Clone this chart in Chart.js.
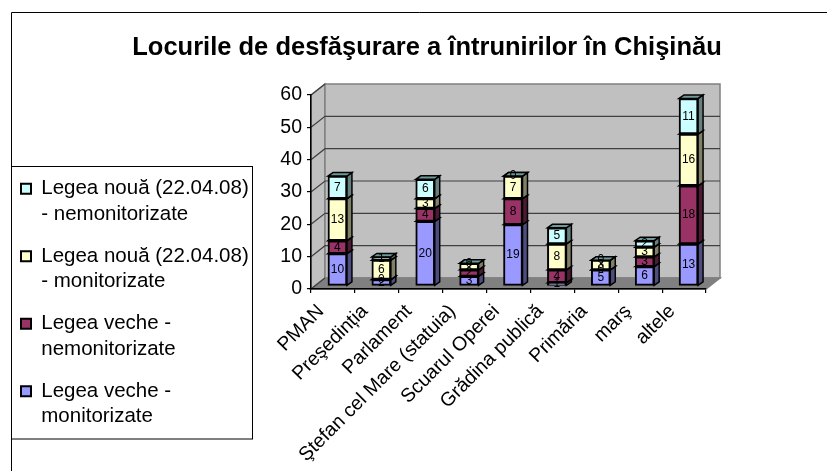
<!DOCTYPE html>
<html>
<head>
<meta charset="utf-8">
<script src="https://cdn.jsdelivr.net/npm/chart.js@4"></script>
<style>
    html, body { margin: 0; padding: 0; background: #fff; overflow: hidden; }
    canvas { display: block; }
</style>
</head>
<body>
<canvas id="myChart" width="827" height="471"></canvas>
<script>
const chartTitle = 'Locurile de desfăşurare a întrunirilor în Chişinău';
const categories = ['PMAN', 'Preşedinția', 'Parlament', 'Ştefan cel Mare (statuia)', 'Scuarul Operei', 'Grădina publică', 'Primăria', 'marş', 'altele'];
const legeaVecheMon = [10, 2, 20, 3, 19, 1, 5, 6, 13];
const legeaVecheNemon = [4, 0, 4, 2, 8, 4, 0, 3, 18];
const legeaNouaMon = [13, 6, 3, 2, 7, 8, 3, 3, 16];
const legeaNouaNemon = [7, 1, 6, 0, 0, 5, 0, 2, 11];
const yTicks = [0, 10, 20, 30, 40, 50, 60];

// wall depth and bar depth of the fake 3d look
const wallDx = 14, wallDy = -11;
const barShiftX = 4.5, barShiftY = -3;
const barDx = 5, barDy = -3.5;

function series(label, data, front, side, top) {
    return {
        label: label,
        data: data,
        backgroundColor: front,
        sideColor: side,
        topColor: top,
        borderColor: '#000',
        borderWidth: 2,
        borderSkipped: false,
        barThickness: 19,
        clip: false,
    };
}

function face(ctx, pts, fill) {
    ctx.beginPath();
    ctx.moveTo(pts[0][0], pts[0][1]);
    pts.slice(1).forEach(p => ctx.lineTo(p[0], p[1]));
    ctx.closePath();
    ctx.fillStyle = fill;
    ctx.fill();
    ctx.stroke();
}

const fake3d = {
    id: 'fake3d',
    afterLayout(chart) {
        // legend and title do not sit where the layout puts them
        const lg = chart.legend;
        lg.left = 4.5; lg.right = lg.left + lg.width;
        lg.top = 162; lg.bottom = lg.top + lg.height;
        chart.titleBlock.left += 74;
        chart.titleBlock.right += 74;
    },
    beforeDraw(chart) {
        const { ctx, chartArea: a, scales: { y } } = chart;
        ctx.save();
        // outer frame, open on the right and at the bottom
        ctx.strokeStyle = '#000';
        ctx.lineWidth = 1;
        ctx.beginPath();
        ctx.moveTo(11.5, 471);
        ctx.lineTo(11.5, 12.5);
        ctx.lineTo(827, 12.5);
        ctx.stroke();
        ctx.strokeRect(11.5, 166.5, 241, 272.5);

        // side wall, back wall, floor
        ctx.lineWidth = 1.5;
        ctx.strokeStyle = '#808080';
        face(ctx, [[a.left, a.top], [a.left + wallDx, a.top + wallDy], [a.left + wallDx, a.bottom + wallDy], [a.left, a.bottom]], '#c0c0c0');
        face(ctx, [[a.left + wallDx, a.top + wallDy], [a.right + wallDx, a.top + wallDy], [a.right + wallDx, a.bottom + wallDy], [a.left + wallDx, a.bottom + wallDy]], '#c0c0c0');
        face(ctx, [[a.left, a.bottom], [a.left + wallDx, a.bottom + wallDy], [a.right + wallDx, a.bottom + wallDy], [a.right, a.bottom]], '#808080');

        // grid lines on the walls
        ctx.strokeStyle = '#404040';
        ctx.lineWidth = 1.2;
        yTicks.forEach(v => {
            const py = y.getPixelForValue(v);
            ctx.beginPath();
            ctx.moveTo(a.left, py);
            ctx.lineTo(a.left + wallDx, py + wallDy);
            if (v > 0 && v < 60) ctx.lineTo(a.right + wallDx, py + wallDy);
            ctx.stroke();
        });
        ctx.restore();
    },
    beforeDatasetsDraw(chart) {
        const ctx = chart.ctx;
        ctx.save();
        ctx.translate(barShiftX, barShiftY);
        ctx.strokeStyle = '#000';
        ctx.lineWidth = 1.5;
        chart.data.datasets.forEach((ds, i) => {
            chart.getDatasetMeta(i).data.forEach(bar => {
                const r = bar.x + bar.width / 2, l = bar.x - bar.width / 2;
                face(ctx, [[r, bar.y], [r + barDx, bar.y + barDy], [r + barDx, bar.base + barDy], [r, bar.base]], ds.sideColor);
                face(ctx, [[l, bar.y], [l + barDx, bar.y + barDy], [r + barDx, bar.y + barDy], [r, bar.y]], ds.topColor);
            });
        });
    },
    afterDatasetsDraw(chart) {
        const ctx = chart.ctx;
        ctx.font = '12px "Liberation Sans"';
        ctx.fillStyle = '#000';
        ctx.textAlign = 'center';
        ctx.textBaseline = 'middle';
        chart.data.datasets.forEach((ds, i) => {
            chart.getDatasetMeta(i).data.forEach((bar, j) => {
                ctx.fillText(ds.data[j], bar.x, (bar.y + bar.base) / 2);
            });
        });
        ctx.restore();
    },
};

new Chart(document.getElementById('myChart'), {
    type: 'bar',
    data: {
        labels: categories,
        datasets: [
            series(['Legea veche -', 'monitorizate'], legeaVecheMon, '#9999ff', '#4d4d80', '#6b6bb3'),
            series(['Legea veche -', 'nemonitorizate'], legeaVecheNemon, '#993366', '#4d1a33', '#6b2447'),
            series(['Legea nouă (22.04.08)', '- monitorizate'], legeaNouaMon, '#ffffcc', '#808066', '#b3b38f'),
            series(['Legea nouă (22.04.08)', '- nemonitorizate'], legeaNouaNemon, '#ccffff', '#668080', '#6f9a9a'),
        ],
    },
    options: {
        responsive: false,
        animation: false,
        layout: { padding: { right: 121 } },
        plugins: {
            tooltip: { enabled: false },
            title: {
                display: true,
                text: chartTitle,
                color: '#000',
                font: { family: '"Liberation Sans"', size: 25.5, weight: 'bold', lineHeight: 1.2 },
                padding: { top: 32.7, bottom: 31.7 },
            },
            legend: {
                position: 'left',
                align: 'start',
                reverse: true,
                maxWidth: 300,
                labels: {
                    color: '#000',
                    boxWidth: 10,
                    boxHeight: 10,
                    padding: 16.5,
                    font: { family: '"Liberation Sans"', size: 20.5, lineHeight: 1.244 },
                },
            },
        },
        scales: {
            x: {
                stacked: true,
                afterFit(scale) { scale.height = 182; },
                grid: { drawOnChartArea: false, tickLength: 4, color: '#000', lineWidth: 1.2 },
                border: { color: '#000', width: 1.5 },
                ticks: {
                    autoSkip: false,
                    minRotation: 45,
                    maxRotation: 45,
                    labelOffset: -12,
                    color: '#000',
                    padding: 7,
                    font: { family: '"Liberation Sans"', size: 19.5 },
                },
            },
            y: {
                stacked: true,
                min: 0,
                max: 60,
                afterFit(scale) { scale.width = 311 - scale.chart.legend.width; },
                grid: { drawOnChartArea: false, tickLength: 4, color: '#000', lineWidth: 1.2 },
                border: { color: '#000', width: 1.5 },
                ticks: {
                    stepSize: 10,
                    color: '#000',
                    padding: 5,
                    font: { family: '"Liberation Sans"', size: 19.5 },
                },
            },
        },
    },
    plugins: [fake3d],
});
</script>
</body>
</html>
